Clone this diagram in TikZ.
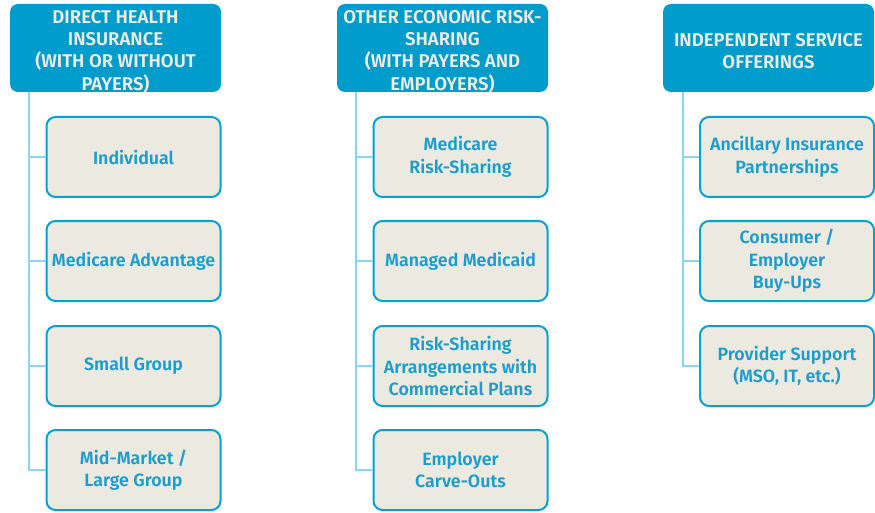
\documentclass[tikz,border=0pt]{standalone}
\usepackage{fontspec}
\setmainfont{Fira Sans}[BoldFont={Fira Sans SemiBold}]
\definecolor{headfill}{HTML}{009CCB}
\definecolor{headtext}{HTML}{EEEBE0}
\definecolor{boxfill}{HTML}{ECE9E0}
\definecolor{boxline}{HTML}{05A1D3}
\definecolor{boxtext}{HTML}{1C9DCB}
\definecolor{linkcol}{HTML}{86D6F4}
\begin{document}
\begin{tikzpicture}[x=1pt,y=-1pt,
  header/.style={rectangle, rounded corners=8pt, fill=headfill,
    minimum width=211pt, minimum height=88pt, inner sep=0pt},
  headlabel/.style={text=headtext, inner sep=0pt, align=center,
    font=\fontsize{18.5}{22.4}\selectfont\bfseries},
  item/.style={rectangle, rounded corners=9pt, draw=boxline, line width=2pt,
    fill=boxfill, text=boxtext, minimum width=174pt, minimum height=80pt,
    inner sep=0pt, align=center, font=\fontsize{17.8}{22.4}\selectfont\bfseries},
  link/.style={draw=linkcol, line width=1.2pt}]
\useasboundingbox (0,0) rectangle (875,513);

% column headers: box, then its caption set a little below centre
\node[header] (h1) at (115.5,48) {};
\node[headlabel] (h1t) at (115.5,51.5) {DIRECT HEALTH\\INSURANCE\\(WITH OR WITHOUT\\PAYERS)};
\node[header] (h2) at (442.5,48) {};
\node[headlabel] (h2t) at (442.5,51.5) {OTHER ECONOMIC RISK-\\SHARING\\(WITH PAYERS AND\\EMPLOYERS)};
\node[header] (h3) at (768.5,48) {};
\node[headlabel] (h3t) at (768.5,51) {INDEPENDENT SERVICE\\OFFERINGS};

% first column
\node[item] (a1) at (133.5,157) {Individual};
\node[item] (a2) at (133.5,261) {Medicare Advantage};
\node[item] (a3) at (133.5,366) {Small Group};
\node[item] (a4) at (133.5,470) {Mid-Market /\\Large Group};

% second column
\node[item] (b1) at (460.5,157) {Medicare\\Risk-Sharing};
\node[item] (b2) at (460.5,261) {Managed Medicaid};
\node[item] (b3) at (460.5,366) {Risk-Sharing\\Arrangements with\\Commercial Plans};
\node[item] (b4) at (460.5,470) {Employer\\Carve-Outs};

% third column
\node[item] (c1) at (787,157) {Ancillary Insurance\\Partnerships};
\node[item] (c2) at (787,261) {Consumer /\\Employer\\Buy-Ups};
\node[item] (c3) at (787,366) {Provider Support\\(MSO, IT, etc.)};

% tree connectors
\foreach \h/\x/\kids in {h1/29/{a1,a2,a3,a4}, h2/356/{b1,b2,b3,b4}, h3/683/{c1,c2,c3}}{
  \foreach \k in \kids{
    \draw[link] (\h.south -| \x,0) |- (\k.west);
  }
}
\end{tikzpicture}
\end{document}
